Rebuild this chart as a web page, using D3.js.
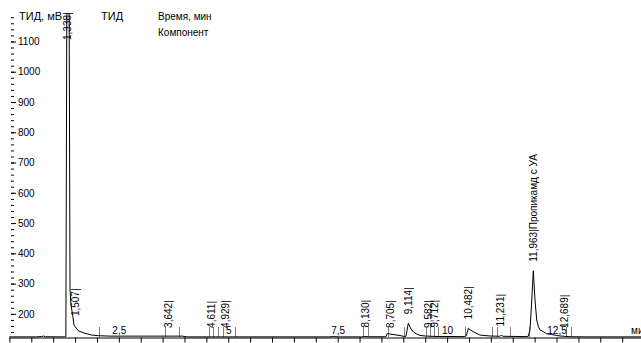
<!DOCTYPE html>
<html>
<head>
<meta charset="utf-8">
<script src="https://cdn.jsdelivr.net/npm/d3@7"></script>
<style>
  body { margin: 0; background: #fff; }
  svg { display: block; font-family: "Liberation Sans", Arial, sans-serif; }
</style>
</head>
<body>
<div id="chart"></div>
<script>
// detector trace: [time, min ; signal, mV]
const trace = [
  [0.00, 124], [0.60, 124], [0.74, 125], [0.78, 127], [0.82, 124.5], [1.25, 124],
  [1.29, 125], [1.338, 2500], [1.385, 279], [1.407, 229], [1.446, 196], [1.476, 163],
  [1.574, 144], [1.727, 136], [1.880, 130], [2.03, 128], [2.30, 126.5], [3.00, 126.5],
  [3.95, 126.5], [4.06, 124], [5.00, 124], [7.30, 124], [7.40, 125], [7.55, 124],
  [8.05, 124], [8.12, 125.5], [8.20, 124.5], [8.60, 124.5], [8.634, 135], [8.764, 132],
  [8.924, 128.6], [9.015, 125.5], [9.06, 126], [9.114, 169], [9.153, 156.7], [9.19, 146.8],
  [9.243, 138.5], [9.305, 133.6], [9.38, 129], [9.495, 127], [9.724, 125.5], [10.40, 125],
  [10.44, 128], [10.484, 152], [10.53, 147], [10.60, 141], [10.75, 130], [10.98, 127],
  [11.20, 126], [11.24, 129], [11.28, 126], [11.80, 125], [11.855, 126], [11.894, 147],
  [11.934, 246], [11.97, 342.6], [12.008, 246], [12.047, 180], [12.084, 158], [12.122, 147],
  [12.20, 141], [12.277, 134], [12.39, 132], [12.505, 128.6], [12.58, 127], [12.81, 124.6],
  [13.20, 124], [14.60, 124]
];

// labelled peaks
const peakTimes = [1.338, 1.507, 3.642, 4.611, 4.929, 8.130, 8.705, 9.114, 9.582, 9.712,
  10.482, 11.231, 11.963, 12.689];
const peakNames = ['', '', '', '', '', '', '', '', '', '', '', '', 'Пропикамд с УА', ''];

// integration start / end marks
const markerTimes = [2.05, 3.56, 3.88, 4.57, 4.66, 4.77, 4.88, 5.15, 8.07, 8.20, 8.66, 9.02,
  9.52, 9.62, 9.69, 9.80, 10.41, 11.02, 11.15, 11.44, 11.86, 12.72, 12.84];

const xTickLabels = [2.5, 5, 7.5, 10, 12.5];
const yTickLabels = [200, 300, 400, 500, 600, 700, 800, 900, 1000, 1100];

const width = 641, height = 343;
const axisY = 337.5, plotTop = 13;

const svg = d3.select('#chart').append('svg')
  .attr('width', width)
  .attr('height', height);

const x = d3.scaleLinear().domain([0, 14.6]).range([9.4, 9.4 + 14.6 * 43.77]);
const y = d3.scaleLinear().domain([122, 1194]).range([axisY, plotTop]);

const comma = d => String(d).replace('.', ',');
const fmt3 = d => d3.format('.3f')(d).replace('.', ',');

svg.append('defs').append('clipPath').attr('id', 'plot')
  .append('rect')
  .attr('x', 0).attr('y', plotTop)
  .attr('width', width).attr('height', axisY - plotTop + 1);

// y axis: minor dashes every 20, labelled every 100
const yMinor = svg.append('g')
  .attr('transform', 'translate(11,0)')
  .call(d3.axisRight(y).tickValues(d3.range(140, 1181, 20)).tickSize(3).tickFormat(''));
yMinor.select('.domain').remove();

const yMajor = svg.append('g')
  .attr('transform', 'translate(11,0)')
  .call(d3.axisRight(y).tickValues(yTickLabels).tickSize(5).tickPadding(2).tickFormat(d3.format('d')));
yMajor.select('.domain').remove();
yMajor.selectAll('text').attr('font-size', 10).attr('fill', '#000').attr('font-family', null);

// x axis: ticks every 0.5 min, labels sit above the line
svg.append('g')
  .attr('transform', 'translate(0,' + axisY + ')')
  .call(d3.axisBottom(x).tickValues(d3.range(0, 14.6, 0.5)).tickSize(5).tickSizeOuter(0).tickFormat(''))
  .select('.domain').attr('d', 'M' + x(0) + ',0.5H' + width);

const xLab = svg.append('g')
  .attr('transform', 'translate(0,' + axisY + ')')
  .call(d3.axisTop(x).tickValues(xTickLabels).tickSize(0).tickPadding(3.5).tickFormat(comma));
xLab.select('.domain').remove();
xLab.selectAll('text').attr('font-size', 10).attr('fill', '#000').attr('font-family', null);

// unit at the right end, partly off the edge as in the original
svg.append('text')
  .attr('x', 631).attr('y', axisY - 3.5)
  .attr('font-size', 10)
  .text('мин');

// markers
svg.append('g').selectAll('line')
  .data(markerTimes)
  .enter().append('line')
  .attr('x1', d => Math.round(x(d)) + 0.5)
  .attr('x2', d => Math.round(x(d)) + 0.5)
  .attr('y1', axisY - 1)
  .attr('y2', axisY - 10)
  .attr('stroke', '#000')
  .attr('stroke-dasharray', '1,1');

// trace
const line = d3.line().x(d => x(d[0])).y(d => y(d[1]));
svg.append('path')
  .datum(trace)
  .attr('clip-path', 'url(#plot)')
  .attr('fill', 'none')
  .attr('stroke', '#000')
  .attr('stroke-width', 1)
  .attr('d', line);

// peak labels, vertical, just above each apex
function apexAt(t) {
  const near = trace.filter(d => Math.abs(d[0] - t) <= 0.035);
  return d3.max(near, d => d[1]) || 124;
}

svg.append('g').selectAll('text')
  .data(peakTimes)
  .enter().append('text')
  .attr('transform', (d) => {
    const yb = Math.max(40, Math.min(y(apexAt(d)) - 9, 329));
    return 'translate(' + (x(d) + 3.5) + ',' + yb + ') rotate(-90)';
  })
  .attr('font-size', 10)
  .attr('fill', '#000')
  .text((d, i) => fmt3(d) + '|' + peakNames[i]);

// header
const head = svg.append('g').attr('fill', '#000');
head.append('text').attr('x', 19).attr('y', 20).attr('font-size', 11).text('ТИД, мВ');
head.append('text').attr('x', 101).attr('y', 20).attr('font-size', 11).text('ТИД');
head.append('text').attr('x', 158).attr('y', 20).attr('font-size', 10).text('Время, мин');
head.append('text').attr('x', 158).attr('y', 36).attr('font-size', 10).text('Компонент');
</script>
</body>
</html>
